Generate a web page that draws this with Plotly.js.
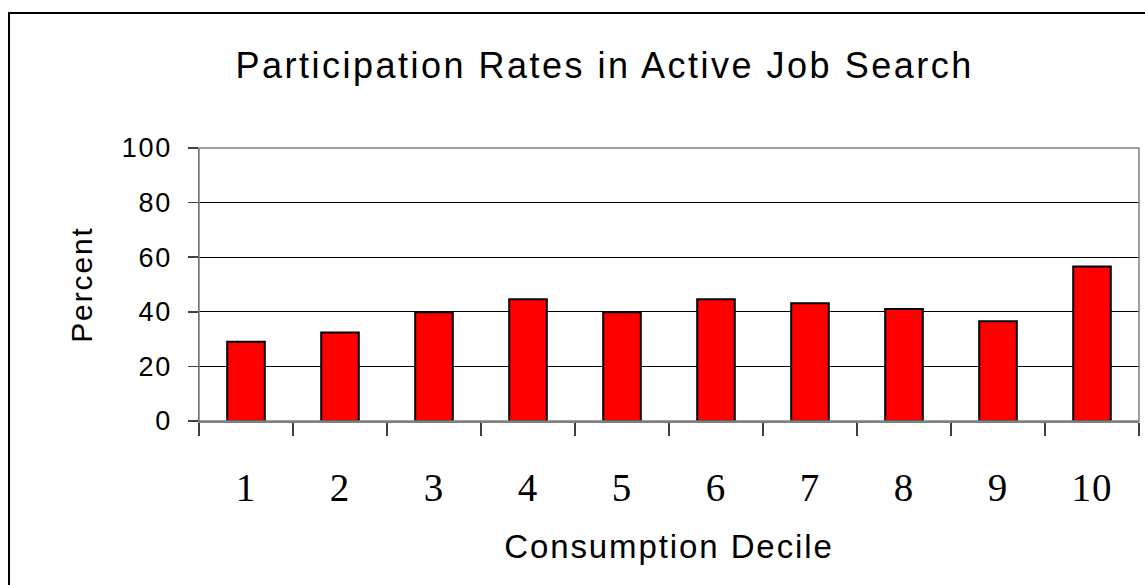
<!DOCTYPE html>
<html>
<head>
<meta charset="utf-8">
<script src="https://cdn.plot.ly/plotly-3.0.1.min.js"></script>
<style>
  html, body { margin: 0; padding: 0; background: #fff; }
  #wrap { position: relative; width: 1145px; height: 585px; overflow: hidden; }
  #chart { position: absolute; left: 0; top: 0; width: 1145px; height: 585px; }
  #frame { position: absolute; left: 8px; top: 12px; width: 1200px; height: 700px;
           border-left: 2px solid #000; border-top: 2px solid #000; pointer-events: none; }
  .gtitle { letter-spacing: 2.5px; }
  .xtitle { letter-spacing: 1.9px; }
  .ytitle { letter-spacing: 1.9px; }
  .ytick text { letter-spacing: 1.8px; }
  .xtick text { letter-spacing: 1px; }
</style>
</head>
<body>
<div id="wrap">
  <div id="chart"></div>
  <div id="frame"></div>
</div>
<script>
const deciles = ["1", "2", "3", "4", "5", "6", "7", "8", "9", "10"];
const participation = [29.0, 32.4, 39.8, 44.6, 39.8, 44.6, 43.1, 41.0, 36.5, 56.6];
const chartTitle = "Participation Rates in Active Job Search";
const xTitle = "Consumption Decile";
const yTitle = "Percent";
const yTicks = [0, 20, 40, 60, 80, 100];

const trace = {
  type: "bar",
  x: deciles,
  y: participation,
  marker: { color: "#ff0000", line: { color: "#000000", width: 2 } },
  hoverinfo: "x+y"
};

const layout = {
  width: 1145,
  height: 585,
  paper_bgcolor: "#ffffff",
  plot_bgcolor: "#ffffff",
  margin: { l: 199, r: 6, t: 147.5, b: 164 },
  bargap: 0.6,
  showlegend: false,
  title: {
    text: chartTitle,
    font: { family: "Liberation Sans, Arial, sans-serif", size: 36, color: "#000" },
    xref: "container", x: 0.528, xanchor: "center",
    yref: "container", y: 0.889, yanchor: "middle"
  },
  xaxis: {
    type: "category",
    categoryorder: "array",
    categoryarray: deciles,
    showline: true, linecolor: "#808080", linewidth: 1.5,
    ticks: "outside", tickson: "boundaries", ticklen: 13, tickcolor: "#404040", tickwidth: 1.5,
    tickfont: { family: "Liberation Serif, Times New Roman, serif", size: 39, color: "#000" },
    ticklabelstandoff: 32,
    showgrid: false, zeroline: false,
    title: {
      text: xTitle,
      font: { family: "Liberation Sans, Arial, sans-serif", size: 33, color: "#000" },
      standoff: 26
    }
  },
  yaxis: {
    range: [0, 100],
    tickvals: yTicks,
    ticktext: yTicks.map(String),
    showline: true, linecolor: "#404040", linewidth: 1.5,
    ticks: "outside", ticklen: 10, tickcolor: "#404040", tickwidth: 1.5,
    tickfont: { family: "Liberation Sans, Arial, sans-serif", size: 27, color: "#000" },
    ticklabelstandoff: 10,
    showgrid: true, gridcolor: "#000000", gridwidth: 1,
    zeroline: false,
    title: {
      text: yTitle,
      font: { family: "Liberation Sans, Arial, sans-serif", size: 30, color: "#000" },
      standoff: 20
    }
  },
  shapes: [
    { type: "rect", xref: "paper", yref: "paper", x0: 0, x1: 1, y0: 0, y1: 1,
      line: { color: "#808080", width: 1.5 }, fillcolor: "rgba(0,0,0,0)", layer: "above" }
  ]
};

Plotly.newPlot("chart", [trace], layout, { displayModeBar: false, staticPlot: true });
</script>
</body>
</html>
